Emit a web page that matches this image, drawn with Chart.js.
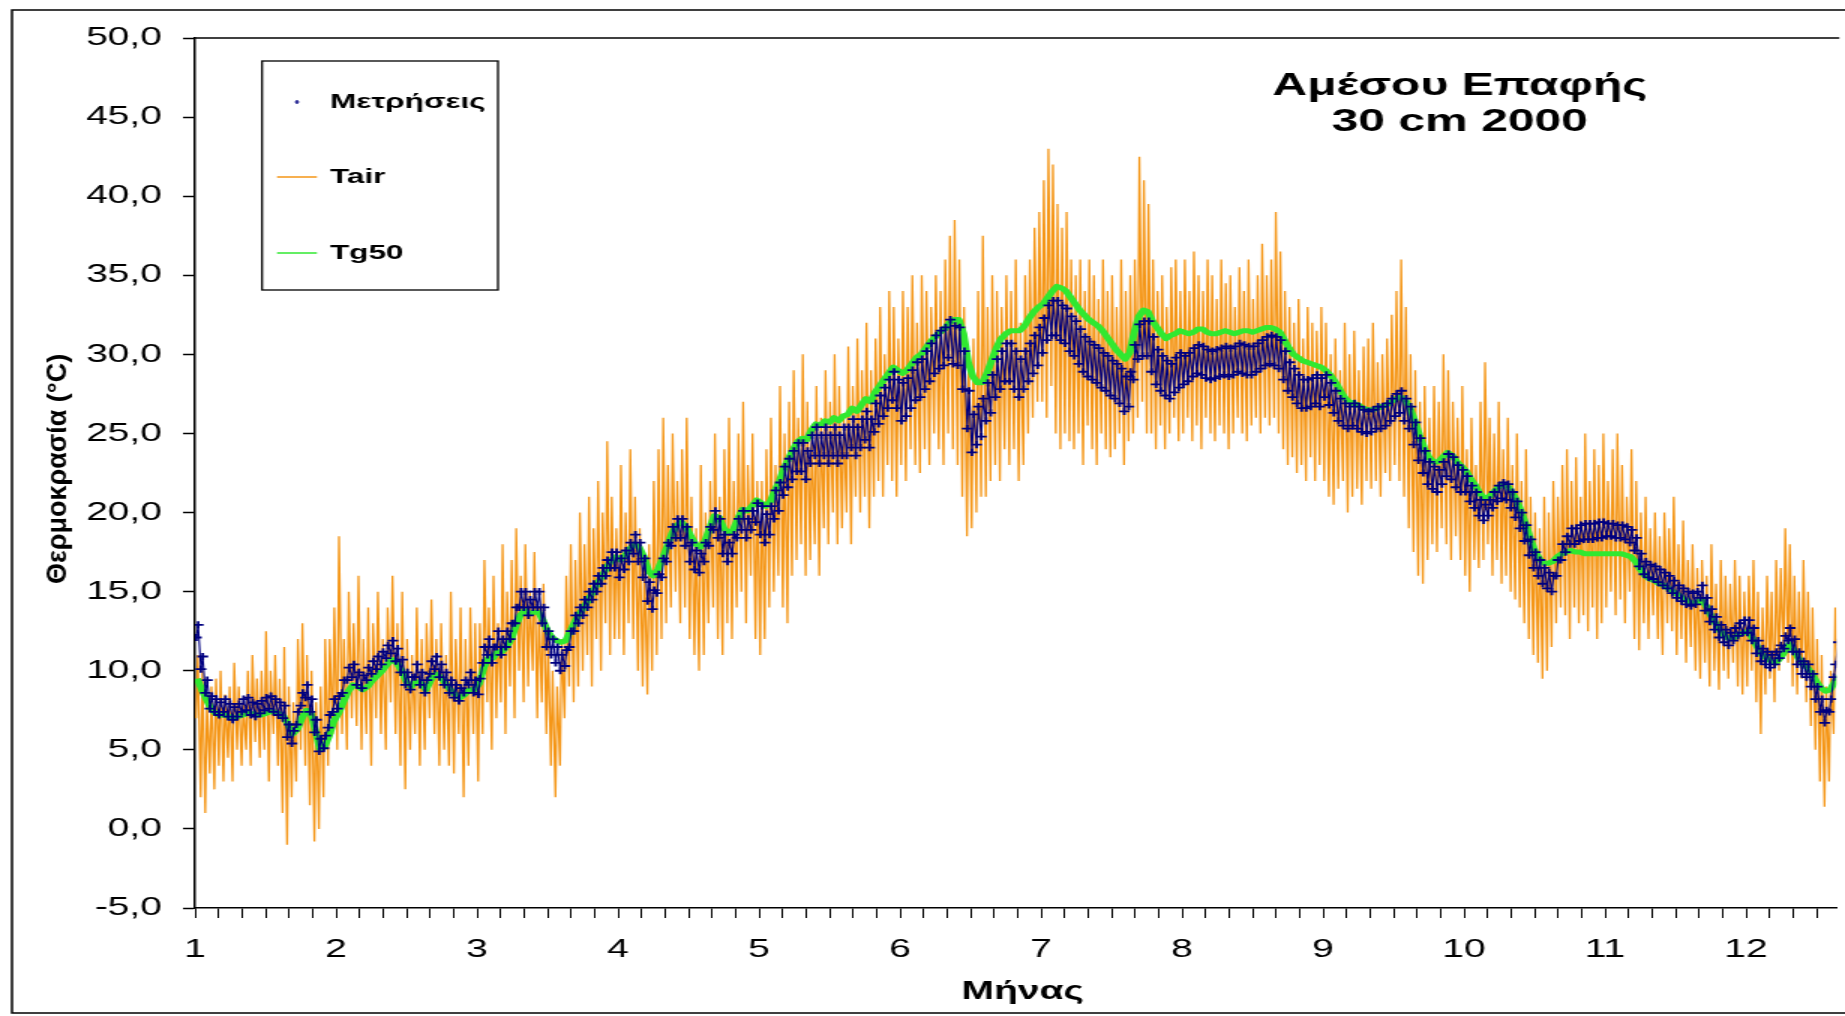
<!DOCTYPE html>
<html lang="el">
<head>
<meta charset="utf-8">
<title>Αμέσου Επαφής 30 cm 2000</title>
<script src="https://cdn.jsdelivr.net/npm/chart.js@4.4.1/dist/chart.umd.min.js"></script>
<style>
html,body{margin:0;padding:0;background:#fff;overflow:hidden;}
</style>
</head>
<body>
<canvas id="chart" width="1230" height="1016" style="display:block;width:1845px;height:1016px;"></canvas>
<script>
// ---------------- data (year 2000, Jan 1 – Dec 21, one entry per day) ----------------
const monthDays = [31,29,31,30,31,30,31,31,30,31,30,31];
const monthNumbers = [1,2,3,4,5,6,7,8,9,10,11,12];
const yTickValues = [-5,0,5,10,15,20,25,30,35,40,45,50];

// Tair: daily maximum / minimum (°C)
const tairMax = [
 11,10,8,9,9.5,10,8.5,9,10.5,9,8,10,11,9.5,10,12.5,10,11,9.5,11.5,9,8,12,13,11,10,8,9,12,12,14,
 18.5,12,15,13,16,12,14,13,15,12,14,16,13,15,12,11,14,12,13,14.5,12,13,11,15,12,14,12,14,13,
 13,17,14,16,13,18,15,17,19,16,18,15,17.5,14,15.5,12,10,9,12,16,18,17,20,18,21,19,22,20,24.5,21,19,
 23,20,24,21,19,17,18,22,24,26,23,25,22,24,26,21,19,23,20,22,25,21,24,26,22,25,27,23,25,22,
 22,24,26,23,28,25,27,29,26,30,27,25,28,26,29,27,30,28,26,30.5,28,31,29,32,29,31,33,30,34,33,31,
 34,33,35,32,35,34,33,35,34,36,37.5,38.5,36,33,30,31,34,37.5,33,35,34,33,35,34,36,32,35,36,38,39,
 41,43,42,39.5,38,39,36,35,36,34,36,35,33.5,36,34,35,33,36,34,35,36,42.5,41,39.5,36,34,35,33,35.5,36,34,
 36,34,36.5,35,34,36,35,33.5,36,34.5,35,33,35.5,34,36,33.5,35,37,35,36,39,36.5,34,33,32,33.5,31,33,32,31.5,33,
 32,30,31,29,32,30,31.5,29,30.5,31,32,29.5,30,31,32.5,34,36,33,30,29,27,28,26,28,27,30,29,27,26,28,
 24,26,23,27,29.5,26,25,27,24,26,23,25,22,24,21,20,19,21,20,22,21,23,24,22,23.5,21,25,22,24,23,25,
 22,24,25,23,21,24,22,20,21,19,20,18.5,20,19,21,18,19.5,17,18,16.5,17,16,18,15.5,17,16,15.5,17,16,15,
 16,17,15,14,16,15,17,16.5,19,18,16,15,17,15,14,12,11,9,10,14,16.5
];
const tairMin = [
 7,2,1,3.5,2.5,4,3,4.5,3,5,4,5,4,5.5,4.5,5,3,6,4,1,-1,2,3,5,4,1.5,-0.8,0,2,4,6,
 5,6,5,7,6.5,5,6,4,7,6,5,8,6,4,2.5,5,6,4,5,7,6,4,5,4,3.5,6,2,4,6,
 3,6,8,5,7,8,6,9,7,10,8,9,10,7,8,6,4,2,4,7,9,8,9,10,11,9,12,10,13,11,12,
 12,11,13,12,10,9,8.5,10,11,12,13,14,15,13,14,12,11,10,11,13,14,12,11,13,12,14,15,13,16,12,
 11,12,14,15,16,14,13,16,17,18,16,17,18,16,19,18,20,18,19,20,18,21,20,21,19,21,22,21,23,22,21,
 23,22,24,23,22.5,24,23,25,24,23,25,24,23,21,18.5,19,20,21,21,22,23,22,24,23,24,22,23,25,26,27,
 27,26,28,25,24,25,24.5,24,25,23,25.5,24,23,25,24,23.5,24,25,23,24.5,25,26,27,25,25,24,25.5,24,25,26,24.5,
 25,26,24.5,25.5,24,26,25,24.5,25.5,25,24,25,26,25,24.5,25.5,26,25,26,25.5,26,25,24,23,23.5,22.5,23,22,23.5,22,23,
 22,21,20.5,21.5,22,20,21,21.5,20.5,22,21.5,22,21,22.5,22,23,22,21,19,17.5,16,15.5,17,18,17.5,19,18,17,18.5,17,
 16,15,17,16.5,17,18,16,17,15.5,16,15,14.5,14,13,12,11,10.5,9.5,10,11.5,13,14,13.5,12,14,13,13.5,12.5,14,12,13,
 14,15,13.5,14.5,13,15,12,11.3,13,12,13.5,12,11,13,12.5,11,12,10.5,11.5,10,9.5,10.5,9,10,8.8,10,9.5,10.5,9,8.5,
 9,10,8,6,8.5,9.5,8,10,11,10.5,9,8.5,9.5,8,6.5,5,3,1.4,3,6,9
];

// Μετρήσεις: daily upper / lower reading (°C)
const measHigh = [
 12.9,10.9,9.4,8.4,8.2,8.0,8.2,7.9,7.7,7.9,8.2,8.3,8.0,7.9,8.1,8.3,8.4,8.2,8.0,7.8,6.6,6.2,7.4,8.6,9.1,8.2,6.9,5.7,5.9,7.2,8.2,
 8.4,9.4,10.2,10.4,9.9,9.7,10.2,10.6,10.9,11.2,11.6,11.9,11.4,10.7,9.9,9.6,10.4,9.9,9.4,10.6,10.9,10.4,9.9,9.4,9.1,8.9,9.4,9.9,9.4,
 9.5,11.5,12.0,11.5,12.5,12.0,12.5,13.0,14.0,15.0,15.0,14.5,15.0,15.0,14.0,12.5,12.0,11.5,11.0,11.3,12.5,13.5,14.0,14.5,15.0,15.5,16.0,16.5,17.0,17.5,17.5,
 17.1,17.6,18.1,18.6,18.1,17.1,15.6,15.1,16.1,17.1,18.1,19.1,19.6,19.6,19.1,18.1,17.6,17.4,18.1,19.1,20.1,19.6,18.6,18.1,18.6,19.6,20.1,19.6,20.1,20.6,
 20.4,19.9,20.4,21.4,21.9,22.9,23.4,23.9,24.4,24.4,23.9,24.9,25.4,24.9,25.4,24.9,25.4,24.9,25.4,25.4,25.9,25.4,25.9,26.4,25.9,26.9,27.4,27.9,28.4,28.9,28.4,
 28.2,28.5,29.0,29.5,29.7,30.2,30.7,31.2,31.5,31.7,32.2,31.8,31.7,30.2,27.7,26.2,26.7,27.2,28.2,28.7,29.7,30.2,30.7,30.7,30.2,29.7,30.2,30.7,31.2,31.7,
 32.3,33.1,33.4,33.4,33.1,32.9,32.4,32.1,31.6,31.1,30.8,30.6,30.4,30.1,29.9,29.6,29.4,29.1,28.6,28.9,30.6,31.9,32.1,32.1,31.1,30.3,29.9,29.6,29.4,29.8,30.1,
 29.9,30.1,30.4,30.6,30.5,30.3,30.2,30.3,30.4,30.5,30.4,30.5,30.7,30.6,30.5,30.5,30.7,30.9,31.1,31.2,31.1,30.9,30.2,29.5,29.1,28.7,28.4,28.4,28.5,28.7,28.5,
 28.7,28.2,27.7,27.2,26.9,26.7,26.9,26.7,26.5,26.4,26.5,26.7,26.7,26.9,27.2,27.5,27.7,27.2,26.7,25.7,24.7,23.9,23.2,22.9,22.7,23.2,23.7,23.5,23.0,22.7,
 22.3,21.7,21.3,20.8,20.5,20.8,21.3,21.7,21.9,21.8,21.3,20.7,20.0,19.2,18.3,17.5,17.0,16.5,16.2,16.0,17.0,18.0,18.5,19.0,19.0,19.2,19.3,19.3,19.3,19.4,19.4,
 19.3,19.3,19.2,19.2,19.1,18.9,18.4,17.4,16.9,16.7,16.6,16.4,16.2,16.0,15.7,15.4,15.2,15.0,14.9,15.0,15.4,14.6,13.9,13.4,12.9,12.6,12.4,12.7,13.0,13.2,
 13.2,12.7,11.9,11.4,11.2,11.0,11.2,11.6,12.2,12.7,12.0,11.2,10.6,10.4,9.8,9.0,8.2,7.5,8.2,10.4,12.6
];
const measLow = [
 12.1,10.1,8.6,7.6,7.4,7.2,7.4,7.1,6.9,7.1,7.4,7.5,7.2,7.1,7.3,7.5,7.6,7.4,7.2,7.0,5.8,5.4,6.6,7.8,8.3,7.4,6.1,4.9,5.1,6.4,7.4,
 7.6,8.6,9.4,9.6,9.1,8.9,9.4,9.8,10.1,10.4,10.8,11.1,10.6,9.9,9.1,8.8,9.6,9.1,8.6,9.8,10.1,9.6,9.1,8.6,8.3,8.1,8.6,9.1,8.6,
 8.5,10.5,11.0,10.5,11.5,11.0,11.5,12.0,13.0,14.0,14.0,13.5,14.0,14.0,13.0,11.5,11.0,10.5,10.0,10.3,11.5,12.5,13.0,13.5,14.0,14.5,15.0,15.5,16.0,16.5,16.5,
 15.9,16.4,16.9,17.4,16.9,15.9,14.4,13.9,14.9,15.9,16.9,17.9,18.4,18.4,17.9,16.9,16.4,16.2,16.9,17.9,18.9,18.4,17.4,16.9,17.4,18.4,18.9,18.4,18.9,19.4,
 18.6,18.1,18.6,19.6,20.1,21.1,21.6,22.1,22.6,22.6,22.1,23.1,23.6,23.1,23.6,23.1,23.6,23.1,23.6,23.6,24.1,23.6,24.1,24.6,24.1,25.1,25.6,26.1,26.6,27.1,26.6,
 25.8,26.1,26.6,27.1,27.3,27.8,28.3,28.8,29.1,29.3,29.8,29.4,29.3,27.8,25.3,23.8,24.3,24.8,25.8,26.3,27.3,27.8,28.3,28.3,27.8,27.3,27.8,28.3,28.8,29.3,
 30.1,30.9,31.2,31.2,30.9,30.7,30.2,29.9,29.4,28.9,28.6,28.4,28.2,27.9,27.7,27.4,27.2,26.9,26.4,26.7,28.4,29.7,29.9,29.9,28.9,28.1,27.7,27.4,27.2,27.6,27.9,
 28.1,28.3,28.6,28.8,28.7,28.5,28.4,28.5,28.6,28.7,28.6,28.7,28.9,28.8,28.7,28.7,28.9,29.1,29.3,29.4,29.3,29.1,28.4,27.7,27.3,26.9,26.6,26.6,26.7,26.9,26.7,
 27.3,26.8,26.3,25.8,25.5,25.3,25.5,25.3,25.1,25.0,25.1,25.3,25.3,25.5,25.8,26.1,26.3,25.8,25.3,24.3,23.3,22.5,21.8,21.5,21.3,21.8,22.3,22.1,21.6,21.3,
 21.3,20.7,20.3,19.8,19.5,19.8,20.3,20.7,20.9,20.8,20.3,19.7,19.0,18.2,17.3,16.5,16.0,15.5,15.2,15.0,16.0,17.0,17.5,18.0,18.0,18.2,18.3,18.3,18.3,18.4,18.4,
 18.5,18.5,18.4,18.4,18.3,18.1,17.6,16.6,16.1,15.9,15.8,15.6,15.4,15.2,14.9,14.6,14.4,14.2,14.1,14.2,14.6,13.8,13.1,12.6,12.1,11.8,11.6,11.9,12.2,12.4,
 12.4,11.9,11.1,10.6,10.4,10.2,10.4,10.8,11.4,11.9,11.2,10.4,9.8,9.6,9.0,8.2,7.4,6.7,7.4,9.6,11.8
];

// Tg50: daily value (°C)
const tg50 = [
 9.5,8.8,8.2,7.6,7.3,7.2,7.2,7.1,7.0,7.1,7.2,7.3,7.3,7.2,7.2,7.3,7.4,7.4,7.3,7.1,6.6,6.0,6.3,7.0,7.5,7.3,6.2,5.0,5.2,5.9,6.8,
 7.3,8.0,8.7,9.1,9.0,8.8,9.0,9.4,9.7,10.0,10.4,10.7,10.5,10.0,9.3,9.0,9.3,9.2,8.8,9.4,9.8,9.6,9.2,8.8,8.5,8.3,8.5,8.8,8.8,
 9.2,10.2,10.8,10.8,11.2,11.2,11.5,12.0,12.8,13.5,13.8,13.6,13.7,13.7,13.2,12.5,12.1,11.9,11.8,11.9,12.5,13.1,13.6,14.0,14.5,15.0,15.5,16.0,16.5,17.0,17.2,
 17.0,17.3,17.7,18.0,17.8,17.2,16.3,16.0,16.4,17.1,17.9,18.7,19.2,19.4,19.1,18.5,18.0,17.8,18.2,19.0,19.8,19.7,19.0,18.7,18.9,19.6,20.2,20.1,20.4,20.8,
 20.6,20.4,20.7,21.4,22.0,22.8,23.4,24.0,24.5,24.7,24.6,25.2,25.6,25.5,25.8,25.7,26.0,25.8,26.1,26.2,26.6,26.4,26.8,27.2,27.0,27.6,28.0,28.4,28.8,29.2,29.0,
 28.8,29.0,29.4,29.8,30.0,30.4,30.8,31.1,31.4,31.6,32.0,32.2,32.2,31.3,29.5,28.6,28.2,28.2,28.8,29.6,30.4,31.0,31.3,31.5,31.5,31.5,31.8,32.3,32.7,33.0,
 33.2,33.6,34.0,34.3,34.2,34.0,33.6,33.2,32.8,32.5,32.2,32.0,31.8,31.5,31.1,30.7,30.3,30.0,29.7,30.1,31.4,32.4,32.8,32.7,32.1,31.7,31.3,31.0,31.2,31.3,31.5,
 31.4,31.3,31.4,31.6,31.6,31.4,31.3,31.3,31.4,31.5,31.4,31.3,31.4,31.5,31.5,31.4,31.5,31.6,31.7,31.7,31.6,31.4,30.9,30.4,30.0,29.8,29.6,29.5,29.4,29.3,29.2,
 29.0,28.7,28.3,27.8,27.3,27.0,26.9,26.8,26.6,26.5,26.5,26.6,26.7,26.8,27.0,27.2,27.3,27.1,26.6,25.8,24.9,24.1,23.5,23.2,23.2,23.5,23.8,23.6,23.2,22.9,
 22.6,22.1,21.7,21.2,20.9,21.0,21.3,21.6,21.8,21.7,21.3,20.8,20.1,19.3,18.4,17.6,17.1,16.8,16.8,16.9,17.2,17.4,17.5,17.6,17.5,17.5,17.4,17.4,17.4,17.4,17.4,
 17.4,17.4,17.4,17.4,17.3,17.2,16.9,16.4,16.0,15.8,15.7,15.5,15.4,15.2,15.0,14.8,14.6,14.4,14.3,14.3,14.5,14.1,13.5,13.0,12.5,12.2,12.0,12.1,12.3,12.4,
 12.5,12.0,11.5,11.0,10.8,10.6,10.5,10.8,11.2,11.7,11.3,10.8,10.4,10.2,9.8,9.3,8.9,8.7,8.8,9.3,9.7
];

// ---------------- build tables for the library ----------------
const dayX = [], dayLen = [];
monthNumbers.forEach((m, i) => {
  for (let d = 0; d < monthDays[i]; d++) { dayX.push(m + d / monthDays[i]); dayLen.push(1 / monthDays[i]); }
});
const tairPts = [], measPts = [], tgPts = [];
for (let i = 0; i < tairMax.length; i++) {
  tairPts.push({x: dayX[i] + 0.25 * dayLen[i], y: tairMin[i]});
  tairPts.push({x: dayX[i] + 0.62 * dayLen[i], y: tairMax[i]});
}
for (let i = 0; i < measHigh.length; i++) {
  measPts.push({x: dayX[i] + 0.3 * dayLen[i], y: measLow[i]});
  measPts.push({x: dayX[i] + 0.7 * dayLen[i], y: measHigh[i]});
}
for (let i = 0; i < tg50.length; i++) tgPts.push({x: dayX[i] + 0.5 * dayLen[i], y: tg50[i]});

const xTickValues = [];
monthNumbers.forEach(m => { for (let k = 0; k < 6; k++) xTickValues.push(m + k / 6); });

// ---------------- drawing ----------------
const SX = 1.5; // horizontal stretch of the canvas (1230 -> 1845 px)
const FONT = "'Liberation Sans', Arial, Helvetica, sans-serif";
Chart.defaults.font.family = FONT;
Chart.defaults.color = '#000';

const COL_MEAS = '#000080', COL_TAIR = 'rgb(245,150,22)', COL_TG = 'rgb(48,232,48)';

const framePlugin = {
  id: 'frame',
  beforeDraw(chart) {
    const {ctx} = chart;
    ctx.save();
    ctx.fillStyle = '#fff';
    ctx.fillRect(0, 0, chart.width, chart.height);
    ctx.strokeStyle = '#000';
    ctx.lineWidth = 1.5;
    ctx.strokeRect(8, 10, chart.width + 30, 1003);
    ctx.restore();
  },
  afterDraw(chart) {
    const {ctx, chartArea: a} = chart;
    ctx.save();
    ctx.strokeStyle = '#000';
    ctx.lineWidth = 1.5;
    ctx.beginPath(); ctx.moveTo(a.left, a.top); ctx.lineTo(a.right + 2, a.top); ctx.stroke();
    ctx.restore();
  }
};

// axis titles: y title counter-scaled so it keeps its natural thickness; x title centred on a scale value
const axisTitlePlugin = {
  id: 'axisTitles',
  afterDraw(chart, args, o) {
    const {ctx, chartArea: a} = chart;
    ctx.save();
    ctx.fillStyle = '#000';
    ctx.textAlign = 'center';
    ctx.textBaseline = 'middle';
    ctx.font = `bold ${o.size}px ${FONT}`;
    ctx.fillText(o.xText, chart.scales.x.getPixelForValue(o.xValue), o.xY);
    ctx.translate(o.yX, (a.top + a.bottom) / 2 + o.dy);
    ctx.scale(1 / SX, 1);
    ctx.rotate(-Math.PI / 2);
    ctx.font = `bold ${o.ySize}px ${FONT}`;
    ctx.fillText(o.yText, 0, 0);
    ctx.restore();
  }
};

const titlePlugin = {
  id: 'innerTitle',
  afterDraw(chart, args, o) {
    const {ctx} = chart;
    const cx = chart.scales.x.getPixelForValue(o.xValue);
    ctx.save();
    ctx.fillStyle = '#000';
    ctx.font = `bold ${o.size}px ${FONT}`;
    ctx.textAlign = 'center';
    ctx.textBaseline = 'middle';
    o.lines.forEach((t, i) => ctx.fillText(t, cx, o.ys[i]));
    ctx.restore();
  }
};

const boxLegendPlugin = {
  id: 'boxLegend',
  afterDraw(chart, args, o) {
    const {ctx} = chart;
    ctx.save();
    ctx.fillStyle = '#fff';
    ctx.fillRect(o.left, o.top, o.width, o.height);
    ctx.strokeStyle = '#000';
    ctx.lineWidth = 1.3;
    ctx.strokeRect(o.left, o.top, o.width, o.height);
    ctx.font = `bold ${o.size}px ${FONT}`;
    ctx.textAlign = 'left';
    ctx.textBaseline = 'middle';
    o.items.forEach(it => {
      const ds = chart.data.datasets[it.index];
      if (it.kind === 'point') {
        ctx.strokeStyle = ds.pointBorderColor;
        ctx.lineWidth = 1.2;
        const mx = (o.sampleX0 + o.sampleX1) / 2;
        ctx.beginPath();
        ctx.moveTo(mx - 1.5, it.y); ctx.lineTo(mx + 1.5, it.y);
        ctx.moveTo(mx, it.y - 2); ctx.lineTo(mx, it.y + 2);
        ctx.stroke();
      } else {
        ctx.strokeStyle = ds.borderColor;
        ctx.lineWidth = 1.5;
        ctx.beginPath(); ctx.moveTo(o.sampleX0, it.y); ctx.lineTo(o.sampleX1, it.y); ctx.stroke();
      }
      ctx.fillStyle = '#000';
      ctx.fillText(ds.label, o.textX, it.y);
    });
    ctx.restore();
  }
};

const chart = new Chart(document.getElementById('chart'), {
  type: 'line',
  data: {
    datasets: [
      { label: 'Μετρήσεις', data: measPts, showLine: true, order: 1,
        borderColor: COL_MEAS, borderWidth: 1.1, tension: 0,
        pointStyle: 'cross', pointRadius: 3.6, pointBorderWidth: 1.8,
        pointBorderColor: COL_MEAS, pointBackgroundColor: COL_MEAS },
      { label: 'Tair', data: tairPts, order: 3, borderColor: COL_TAIR, borderWidth: 1.3,
        pointRadius: 0, tension: 0 },
      { label: 'Tg50', data: tgPts, order: 2, borderColor: COL_TG, borderWidth: 5,
        pointRadius: 0, tension: 0, borderJoinStyle: 'round' }
    ]
  },
  options: {
    responsive: false,
    animation: false,
    events: [],
    layout: { padding: { top: 38, left: 0, right: 0, bottom: 0 } },
    plugins: {
      legend: { display: false },
      tooltip: { enabled: false },
      axisTitles: { xText: 'Μήνας', xValue: 6.87, xY: 992, size: 26,
                    yText: 'Θερμοκρασία (°C)', ySize: 27, yX: 38.7, dy: -4 },
      innerTitle: { xValue: 9.97, ys: [86, 122], size: 32, lines: ['Αμέσου Επαφής', '30 cm 2000'] },
      boxLegend: {
        left: 174.7, top: 61, width: 157.3, height: 229, size: 21,
        sampleX0: 184.7, sampleX1: 211.3, textX: 220,
        items: [ {index: 0, kind: 'point', y: 102}, {index: 1, kind: 'line', y: 177}, {index: 2, kind: 'line', y: 253} ]
      }
    },
    scales: {
      x: {
        type: 'linear', position: 'bottom', min: 1, max: 12.64,
        afterBuildTicks: s => { s.ticks = xTickValues.filter(v => v <= 12.64).map(v => ({ value: v })); },
        afterFit: s => { s.height = 108; },
        ticks: {
          autoSkip: false, maxRotation: 0, minRotation: 0, padding: 16, color: '#000',
          font: { size: 26 },
          callback: v => { const r = Math.round(v); return Math.abs(v - r) < 1e-9 ? String(r) : ''; }
        },
        grid: { drawOnChartArea: false, drawTicks: true, tickLength: 10, tickColor: '#000', tickWidth: 1 },
        border: { display: true, color: '#000', width: 1.5 },
        title: { display: false }
      },
      y: {
        type: 'linear', min: -5, max: 50,
        afterBuildTicks: s => { s.ticks = yTickValues.map(v => ({ value: v })); },
        afterFit: s => { s.width = 130; },
        ticks: {
          padding: 14, color: '#000', font: { size: 26 },
          callback: v => v.toFixed(1).replace('.', ',')
        },
        grid: { drawOnChartArea: false, drawTicks: true, tickLength: 8, tickColor: '#000', tickWidth: 1.5 },
        border: { display: true, color: '#000', width: 1.5 },
        title: { display: false }
      }
    }
  },
  plugins: [framePlugin, axisTitlePlugin, titlePlugin, boxLegendPlugin]
});
chart.canvas.style.width = '1845px';
chart.canvas.style.height = '1016px';
</script>
</body>
</html>
